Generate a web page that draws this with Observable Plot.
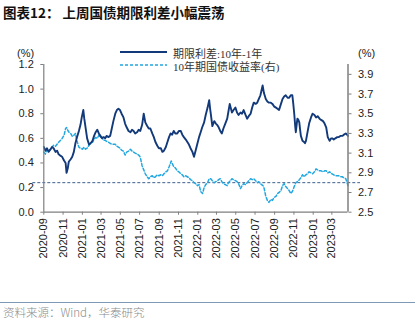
<!DOCTYPE html>
<html>
<head>
<meta charset="utf-8">
<script src="https://cdn.jsdelivr.net/npm/d3@7"></script>
<script src="https://cdn.jsdelivr.net/npm/@observablehq/plot@0.6"></script>
<style>
  html, body { margin: 0; padding: 0; background: #fff; }
  #wrap { position: relative; width: 415px; height: 322px; overflow: hidden; }
  #chart { position: absolute; left: 0; top: 0; }
  .abs { position: absolute; white-space: nowrap; }
  #title { left: 3px; top: 2px; font-family: "Noto Sans CJK SC", sans-serif; font-weight: 700; font-size: 13.5px; color: #111; }
  .unit { font-family: "Liberation Sans", Arial, sans-serif; font-size: 11px; color: #222; }
  .leg { font-family: "Liberation Serif", "Noto Sans CJK SC", serif; font-size: 11px; color: #333; }
  #srcline { left: 0; top: 302px; width: 415px; height: 0; border-top: 1.2px solid #7f98b5; }
  #source { left: 3px; top: 304px; font-family: "Noto Sans CJK SC", sans-serif; font-size: 11.5px; color: #8a8a8a; font-weight: 300; }
</style>
</head>
<body>
<div id="wrap">
  <div id="chart"></div>
  <div id="title" class="abs">图表12： 上周国债期限利差小幅震荡</div>
  <div class="abs unit" style="left:17px; top:47px;">(%)</div>
  <div class="abs unit" style="left:358px; top:47px;">(%)</div>
  <div id="legend"></div>
  <div id="srcline" class="abs"></div>
  <div id="source" class="abs">资料来源：Wind，华泰研究</div>
</div>
<script>
// ---------- data ----------
const seriesNames = ["期限利差:10年-1年", "10年期国债收益率(右)"];

const spreadDates = [
"2020-09-01","2020-09-06","2020-09-11","2020-09-16","2020-09-22","2020-09-27","2020-10-02","2020-10-08","2020-10-13","2020-10-18",
"2020-10-23","2020-10-29","2020-11-04","2020-11-09","2020-11-12","2020-11-16","2020-11-19","2020-11-25","2020-11-30","2020-12-05",
"2020-12-10","2020-12-15","2020-12-21","2020-12-26","2020-12-30","2021-01-04","2021-01-07","2021-01-11","2021-01-16","2021-01-22",
"2021-01-27","2021-02-02","2021-02-07","2021-02-12","2021-02-17","2021-02-22","2021-02-27","2021-03-04","2021-03-09","2021-03-14",
"2021-03-19","2021-03-24","2021-03-30","2021-04-04","2021-04-09","2021-04-15","2021-04-20","2021-04-25","2021-04-30","2021-05-05",
"2021-05-11","2021-05-16","2021-05-21","2021-05-27","2021-06-02","2021-06-07","2021-06-12","2021-06-17","2021-06-23","2021-06-28",
"2021-07-03","2021-07-09","2021-07-14","2021-07-19","2021-07-25","2021-07-30","2021-08-04","2021-08-10","2021-08-15","2021-08-20",
"2021-08-26","2021-08-31","2021-09-06","2021-09-11","2021-09-16","2021-09-22","2021-09-27","2021-10-02","2021-10-07","2021-10-12",
"2021-10-17","2021-10-22","2021-10-28","2021-11-02","2021-11-08","2021-11-13","2021-11-18","2021-11-24","2021-11-29","2021-12-04",
"2021-12-09","2021-12-15","2021-12-20","2021-12-25","2021-12-31","2022-01-05","2022-01-10","2022-01-15","2022-01-21","2022-01-26",
"2022-02-01","2022-02-06","2022-02-09","2022-02-11","2022-02-16","2022-02-22","2022-02-27","2022-03-03","2022-03-08","2022-03-13",
"2022-03-18","2022-03-23","2022-03-29","2022-04-04","2022-04-08","2022-04-12","2022-04-19","2022-04-24","2022-04-30","2022-05-05",
"2022-05-10","2022-05-16","2022-05-21","2022-05-26","2022-06-01","2022-06-06","2022-06-11","2022-06-17","2022-06-22","2022-06-27",
"2022-07-03","2022-07-08","2022-07-13","2022-07-18","2022-07-25","2022-07-29","2022-08-04","2022-08-09","2022-08-14","2022-08-20",
"2022-08-25","2022-08-30","2022-09-05","2022-09-10","2022-09-15","2022-09-21","2022-09-26","2022-10-01","2022-10-06","2022-10-12",
"2022-10-17","2022-10-22","2022-10-27","2022-10-30","2022-11-02","2022-11-05","2022-11-07","2022-11-10","2022-11-12","2022-11-15",
"2022-11-18","2022-11-21","2022-11-23","2022-11-28","2022-12-03","2022-12-06","2022-12-09","2022-12-14","2022-12-19","2022-12-25",
"2022-12-30","2023-01-05","2023-01-10","2023-01-15","2023-01-21","2023-01-26","2023-02-01","2023-02-06","2023-02-11","2023-02-16",
"2023-02-22","2023-02-27","2023-03-02","2023-03-07","2023-03-12","2023-03-18","2023-03-23","2023-03-28","2023-04-03","2023-04-08",
"2023-04-14","2023-04-18","2023-04-21"
];
const spreadValues = [
0.53,0.50,0.52,0.49,0.51,0.53,0.52,0.49,0.50,0.47,
0.46,0.45,0.42,0.40,0.32,0.36,0.41,0.43,0.45,0.49,
0.56,0.61,0.66,0.71,0.77,0.83,0.76,0.69,0.60,0.55,
0.56,0.58,0.62,0.65,0.67,0.64,0.62,0.60,0.61,0.60,
0.62,0.61,0.62,0.68,0.74,0.80,0.83,0.84,0.83,0.80,
0.77,0.72,0.69,0.66,0.65,0.67,0.66,0.64,0.65,0.67,
0.66,0.71,0.80,0.73,0.70,0.68,0.68,0.64,0.61,0.57,
0.54,0.52,0.52,0.49,0.50,0.53,0.57,0.61,0.64,0.63,
0.66,0.64,0.64,0.66,0.66,0.63,0.61,0.59,0.57,0.55,
0.52,0.49,0.45,0.50,0.56,0.61,0.65,0.69,0.73,0.79,
0.85,0.91,0.84,0.80,0.70,0.74,0.72,0.71,0.69,0.66,
0.64,0.68,0.72,0.76,0.82,0.88,0.81,0.83,0.85,0.81,
0.79,0.81,0.80,0.83,0.79,0.76,0.78,0.80,0.85,0.89,
0.88,0.89,0.92,0.95,1.03,0.97,0.92,0.90,0.89,0.89,
0.88,0.86,0.85,0.84,0.83,0.88,0.92,0.94,0.95,0.93,
0.93,0.95,0.95,0.88,0.80,0.70,0.65,0.72,0.76,0.75,
0.73,0.66,0.62,0.58,0.57,0.56,0.58,0.65,0.72,0.77,
0.80,0.79,0.77,0.78,0.76,0.75,0.74,0.72,0.69,0.61,
0.58,0.60,0.60,0.59,0.60,0.61,0.61,0.62,0.62,0.63,
0.64,0.63,0.62
];

const yieldDates = [
"2020-09-01","2020-09-06","2020-09-11","2020-09-16","2020-09-22","2020-09-27","2020-10-02","2020-10-08","2020-10-13","2020-10-18",
"2020-10-24","2020-10-29","2020-11-04","2020-11-09","2020-11-12","2020-11-16","2020-11-20","2020-11-25","2020-11-30","2020-12-05",
"2020-12-10","2020-12-15","2020-12-21","2020-12-26","2021-01-01","2021-01-06","2021-01-11","2021-01-16","2021-01-22","2021-01-27",
"2021-02-02","2021-02-07","2021-02-12","2021-02-17","2021-02-22","2021-02-27","2021-03-04","2021-03-09","2021-03-14","2021-03-19",
"2021-03-25","2021-03-30","2021-04-04","2021-04-09","2021-04-15","2021-04-20","2021-04-25","2021-04-30","2021-05-05","2021-05-11",
"2021-05-16","2021-05-21","2021-05-27","2021-06-02","2021-06-07","2021-06-12","2021-06-17","2021-06-23","2021-06-28","2021-07-03",
"2021-07-09","2021-07-14","2021-07-19","2021-07-25","2021-07-30","2021-08-04","2021-08-10","2021-08-15","2021-08-20","2021-08-26",
"2021-08-31","2021-09-06","2021-09-11","2021-09-16","2021-09-22","2021-09-27","2021-10-02","2021-10-09","2021-10-13","2021-10-17",
"2021-10-22","2021-10-28","2021-11-02","2021-11-08","2021-11-13","2021-11-18","2021-11-24","2021-11-29","2021-12-04","2021-12-09",
"2021-12-15","2021-12-20","2021-12-25","2021-12-31","2022-01-05","2022-01-10","2022-01-16","2022-01-21","2022-01-26","2022-02-01",
"2022-02-06","2022-02-11","2022-02-16","2022-02-22","2022-02-27","2022-03-04","2022-03-08","2022-03-13","2022-03-18","2022-03-23",
"2022-03-29","2022-04-04","2022-04-08","2022-04-14","2022-04-19","2022-04-24","2022-04-30","2022-05-05","2022-05-10","2022-05-16",
"2022-05-21","2022-05-26","2022-06-01","2022-06-06","2022-06-11","2022-06-17","2022-06-22","2022-06-27","2022-07-03","2022-07-08",
"2022-07-13","2022-07-18","2022-07-26","2022-07-30","2022-08-04","2022-08-09","2022-08-14","2022-08-20","2022-08-25","2022-08-30",
"2022-09-05","2022-09-10","2022-09-15","2022-09-21","2022-09-26","2022-10-01","2022-10-06","2022-10-12","2022-10-17","2022-10-22",
"2022-10-27","2022-11-02","2022-11-07","2022-11-12","2022-11-18","2022-11-23","2022-11-28","2022-12-03","2022-12-09","2022-12-14",
"2022-12-19","2022-12-25","2022-12-30","2023-01-05","2023-01-10","2023-01-15","2023-01-21","2023-01-26","2023-02-01","2023-02-06",
"2023-02-11","2023-02-16","2023-02-22","2023-02-27","2023-03-02","2023-03-07","2023-03-12","2023-03-18","2023-03-23","2023-03-28",
"2023-04-03","2023-04-08","2023-04-14","2023-04-18","2023-04-21"
];
const yieldValues = [
3.11,3.09,3.14,3.12,3.14,3.16,3.18,3.17,3.19,3.21,
3.23,3.25,3.28,3.35,3.36,3.33,3.31,3.30,3.27,3.28,
3.30,3.22,3.16,3.15,3.14,3.16,3.14,3.15,3.18,3.20,
3.21,3.24,3.26,3.25,3.28,3.26,3.26,3.23,3.23,3.22,
3.21,3.20,3.19,3.19,3.19,3.17,3.16,3.15,3.13,3.12,
3.08,3.11,3.12,3.14,3.12,3.11,3.10,3.09,3.08,3.06,
2.97,2.93,2.89,2.86,2.84,2.86,2.87,2.85,2.86,2.88,
2.87,2.88,2.87,2.89,2.91,2.92,2.96,3.02,2.99,2.96,
2.95,2.92,2.91,2.89,2.88,2.86,2.87,2.86,2.85,2.83,
2.82,2.80,2.79,2.77,2.78,2.71,2.69,2.75,2.78,2.80,
2.84,2.84,2.82,2.80,2.81,2.82,2.83,2.84,2.81,2.79,
2.78,2.77,2.80,2.82,2.84,2.83,2.82,2.81,2.79,2.74,
2.77,2.79,2.78,2.80,2.82,2.84,2.83,2.84,2.82,2.80,
2.81,2.79,2.77,2.74,2.66,2.62,2.60,2.63,2.62,2.65,
2.66,2.69,2.70,2.72,2.77,2.79,2.76,2.74,2.72,2.69,
2.71,2.76,2.80,2.81,2.83,2.85,2.88,2.86,2.88,2.89,
2.91,2.90,2.89,2.91,2.94,2.93,2.92,2.92,2.91,2.92,
2.92,2.90,2.91,2.89,2.89,2.88,2.87,2.87,2.87,2.86,
2.86,2.85,2.84,2.80,2.77
];

const refYield = 2.80;                 // dashed reference level (right axis)
const leftTicks = [0, 0.2, 0.4, 0.6, 0.8, 1.0, 1.2];
const rightTicks = [2.5, 2.7, 2.9, 3.1, 3.3, 3.5, 3.7, 3.9];
const rightDomain = [2.5, 4.0];
const leftDomain = [0, 1.2];
const xTickLabels = ["2020-09","2020-11","2021-01","2021-03","2021-05","2021-07","2021-09","2021-11",
                     "2022-01","2022-03","2022-05","2022-07","2022-09","2022-11","2023-01","2023-03"];

// ---------- build ----------
const parse = d3.utcParse("%Y-%m-%d");
const parseM = d3.utcParse("%Y-%m");
const k = (leftDomain[1] - leftDomain[0]) / (rightDomain[1] - rightDomain[0]);
const toLeft = r => leftDomain[0] + (r - rightDomain[0]) * k;
const fromLeft = l => rightDomain[0] + (l - leftDomain[0]) / k;

const spread = spreadDates.map((d, i) => ({date: parse(d), value: spreadValues[i]}));
const yld = yieldDates.map((d, i) => ({date: parse(d), value: yieldValues[i]}));
const xDomain = [spread[0].date, spread[spread.length - 1].date];

const navy = "#12397a";
const cyan = "#22a7e0";
const axisGray = "#7f7f7f";

const chart = Plot.plot({
  width: 415,
  height: 322,
  marginTop: 64,
  marginBottom: 110.3,
  marginLeft: 43.3,
  marginRight: 67.5,
  x: {type: "utc", domain: xDomain},
  y: {domain: leftDomain},
  style: {fontFamily: "'Liberation Sans', Arial, sans-serif", fontSize: "11px", color: "#222", background: "transparent"},
  marks: [
    Plot.ruleY([toLeft(refYield)], {stroke: "#3d5f8e", strokeWidth: 1, strokeDasharray: "3,2", insetLeft: -11, insetRight: -12.5}),
    Plot.line(yld, {x: "date", y: d => toLeft(d.value), stroke: cyan, strokeWidth: 1.5, strokeDasharray: "3,2"}),
    Plot.line(spread, {x: "date", y: "value", stroke: navy, strokeWidth: 1.9}),
    Plot.ruleX([xDomain[0]], {stroke: axisGray, strokeWidth: 1.2}),
    Plot.ruleX([xDomain[1]], {stroke: axisGray, strokeWidth: 1.5}),
    Plot.ruleY([leftDomain[0]], {stroke: axisGray, strokeWidth: 1.2}),
    Plot.axisY(leftTicks, {anchor: "left", tickSize: 3, tickPadding: 7, tickFormat: d => d.toFixed(1), label: null, stroke: axisGray}),
    Plot.axisY(rightTicks.map(toLeft), {anchor: "right", tickSize: 3, tickPadding: 7, tickFormat: d => fromLeft(d).toFixed(1), label: null, stroke: axisGray}),
    Plot.axisX(xTickLabels.map(parseM), {anchor: "bottom", tickSize: 3, tickPadding: 3, tickRotate: -90, tickFormat: d3.utcFormat("%Y-%m"), label: null, stroke: axisGray})
  ]
});
document.getElementById("chart").appendChild(chart);

// ---------- legend ----------
const legend = document.getElementById("legend");
const rows = [
  {name: seriesNames[0], color: navy, dash: null, width: 1.9, top: 46},
  {name: seriesNames[1], color: cyan, dash: "3,2", width: 1.5, top: 58.5}
];
rows.forEach(r => {
  const sw = document.createElementNS("http://www.w3.org/2000/svg", "svg");
  sw.setAttribute("width", 48); sw.setAttribute("height", 12);
  sw.style.position = "absolute"; sw.style.left = "120px"; sw.style.top = r.top + "px";
  const ln = document.createElementNS("http://www.w3.org/2000/svg", "line");
  ln.setAttribute("x1", 0); ln.setAttribute("x2", 47); ln.setAttribute("y1", 6); ln.setAttribute("y2", 6);
  ln.setAttribute("stroke", r.color); ln.setAttribute("stroke-width", r.width);
  if (r.dash) ln.setAttribute("stroke-dasharray", r.dash);
  sw.appendChild(ln);
  legend.appendChild(sw);
  const t = document.createElement("div");
  t.className = "abs leg"; t.textContent = r.name;
  t.style.left = "173px"; t.style.top = (r.top - 1) + "px";
  legend.appendChild(t);
});
</script>
</body>
</html>
